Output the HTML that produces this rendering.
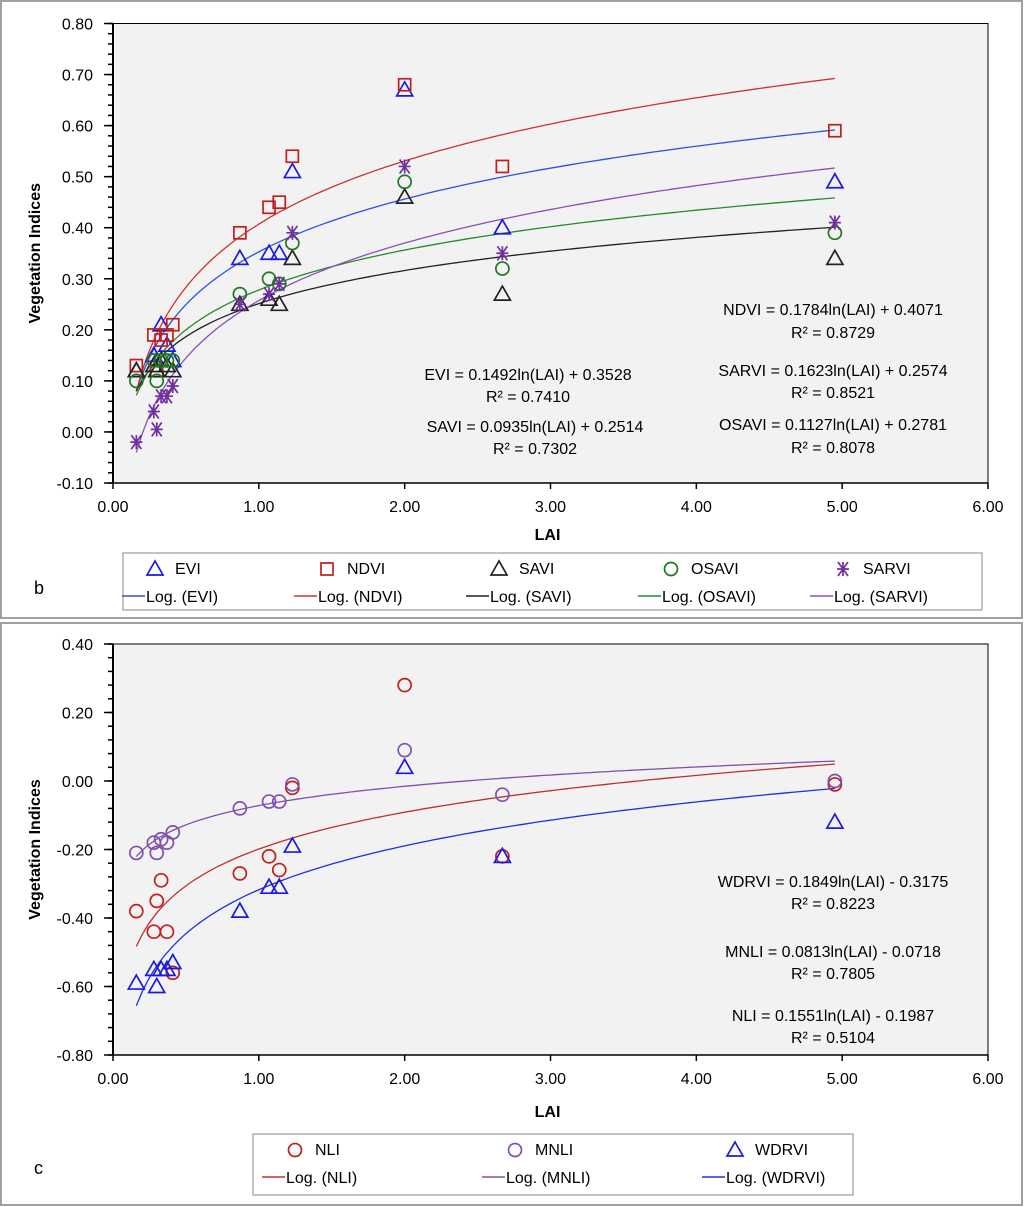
<!DOCTYPE html>
<html><head><meta charset="utf-8"><style>
html,body{margin:0;padding:0;background:#fff;}
svg{display:block;font-family:"Liberation Sans",sans-serif;}
</style></head><body>
<svg id="svg" width="1024" height="1207" viewBox="0 0 1024 1207">
<rect x="1" y="1" width="1021" height="617" fill="#fff" stroke="#a0a0a0" stroke-width="2"/>
<rect x="1" y="623" width="1021" height="582" fill="#fff" stroke="#a0a0a0" stroke-width="2"/>
<g id="gb"></g>
<g id="gc"></g>
</svg>
<script>
const lai = [0.16,0.28,0.30,0.33,0.37,0.41,0.87,1.07,1.14,1.23,2.00,2.67,4.95];
const evi = [0.12,0.15,0.14,0.21,0.17,0.14,0.34,0.35,0.35,0.51,0.67,0.40,0.49];
const ndvi = [0.13,0.19,0.12,0.18,0.19,0.21,0.39,0.44,0.45,0.54,0.68,0.52,0.59];
const savi = [0.12,0.13,0.12,0.14,0.13,0.12,0.25,0.26,0.25,0.34,0.46,0.27,0.34];
const osavi = [0.10,0.14,0.10,0.14,0.14,0.14,0.27,0.30,0.29,0.37,0.49,0.32,0.39];
const sarvi = [-0.02,0.04,0.005,0.07,0.07,0.09,0.25,0.27,0.29,0.39,0.52,0.35,0.41];
const nli = [-0.38,-0.44,-0.35,-0.29,-0.44,-0.56,-0.27,-0.22,-0.26,-0.02,0.28,-0.22,-0.01];
const mnli = [-0.21,-0.18,-0.21,-0.17,-0.18,-0.15,-0.08,-0.06,-0.06,-0.01,0.09,-0.04,0.00];
const wdrvi = [-0.59,-0.55,-0.60,-0.55,-0.55,-0.53,-0.38,-0.31,-0.31,-0.19,0.04,-0.22,-0.12];
const fitB = {evi:[0.1492,0.3528],ndvi:[0.1784,0.4071],savi:[0.0935,0.2514],osavi:[0.1127,0.2781],sarvi:[0.1623,0.2574]};
const fitC = {nli:[0.1551,-0.1987],mnli:[0.0813,-0.0718],wdrvi:[0.1849,-0.3175]};
const xTicks = [0,1,2,3,4,5,6];
const yTicksB = [-0.1,0,0.1,0.2,0.3,0.4,0.5,0.6,0.7,0.8];
const yTicksC = [-0.8,-0.6,-0.4,-0.2,0,0.2,0.4];

const NS="http://www.w3.org/2000/svg";
function el(p,t,a){const e=document.createElementNS(NS,t);for(const k in a)e.setAttribute(k,a[k]);p.appendChild(e);return e;}
function txt(p,x,y,s,o){const e=el(p,'text',Object.assign({x:x,y:y,'font-size':16,fill:'#000'},o||{}));e.textContent=s;return e;}

function marker(g,type,x,y,c){
  let m;
  if(type==='tri') m=el(g,'polygon',{points:`${x},${y-8} ${x-8},${y+6} ${x+8},${y+6}`,fill:'none',stroke:c,'stroke-width':1.7});
  else if(type==='sq') m=el(g,'rect',{x:x-6,y:y-6,width:12,height:12,fill:'none',stroke:c,'stroke-width':1.7});
  else if(type==='circ') m=el(g,'circle',{cx:x,cy:y,r:6.5,fill:'none',stroke:c,'stroke-width':1.7});
  else { m=el(g,'path',{d:`M${x-6},${y}H${x+6}M${x-5},${y-7}L${x+5},${y+7}M${x+5},${y-7}L${x-5},${y+7}M${x},${y-7}V${y+7}`,stroke:c,'stroke-width':1.7,fill:'none'}); }
  return m;
}

function chart(g,o){
  const X0=113,X1=988;
  const sx=v=>X0+(v-0)/6*(X1-X0);
  const sy=v=>o.top+(o.ymax-v)/(o.ymax-o.ymin)*(o.bot-o.top);
  const bg=el(g,'rect',{x:X0,y:o.top,width:X1-X0,height:o.bot-o.top,fill:'#f2f2f2',stroke:'#000','stroke-width':1});
  
  el(g,'line',{x1:X0,y1:o.top,x2:X0,y2:o.bot,stroke:'#000','stroke-width':2});
  el(g,'line',{x1:X0,y1:o.bot,x2:X1,y2:o.bot,stroke:'#000','stroke-width':1.5});
  for(let v=o.ymin;v<=o.ymax+1e-9;v+=o.minor){el(g,'line',{x1:X0-5,y1:sy(v),x2:X0,y2:sy(v),stroke:'#000','stroke-width':1.5});}
  o.yt.forEach(v=>{el(g,'line',{x1:X0-9,y1:sy(v),x2:X0,y2:sy(v),stroke:'#000','stroke-width':1.5});
    const t=txt(g,X0-20,sy(v)+6,v.toFixed(2),{'text-anchor':'end','font-size':16});
    });
  xTicks.forEach(v=>{el(g,'line',{x1:sx(v),y1:o.bot,x2:sx(v),y2:o.bot+6,stroke:'#000','stroke-width':1.5});
    const t=txt(g,sx(v),o.bot+29,v.toFixed(2),{'text-anchor':'middle','font-size':16});
    });
  const xt=txt(g,X0+(X1-X0)/2-3,o.bot+o.xlab,'LAI',{'text-anchor':'middle','font-weight':'bold','font-size':16});
  
  const yt=txt(g,0,0,'Vegetation Indices',{'text-anchor':'middle','font-weight':'bold','font-size':16,transform:`translate(40,${(o.top+o.bot)/2}) rotate(-90)`});
  
  o.series.forEach(s=>{
    let d='';for(let i=0;i<=120;i++){const x=0.16+(4.95-0.16)*i/120;const y=s.fit[0]*Math.log(x)+s.fit[1];d+=(i?'L':'M')+sx(x).toFixed(1)+','+sy(y).toFixed(1);}
    const p=el(g,'path',{d:d,fill:'none',stroke:s.lc,'stroke-width':1.3});
    
  });
  o.series.forEach(s=>{
    s.vals.forEach((v,i)=>{const m=marker(g,s.m,sx(lai[i]),sy(v),s.c);
      });
  });
  o.eqs.forEach(e=>{const t=txt(g,e[0],e[1],e[2],{'text-anchor':'middle','font-size':16});
    });
  const L=o.leg;
  const lb=el(g,'rect',{x:L.x,y:L.y,width:L.w,height:L.h,fill:'#fff',stroke:'#888'});
  
  o.series.forEach((s,i)=>{const cx=L.x+L.dx+i*L.step;
    const m=marker(g,s.m,cx,L.y+16,s.c);
    const t=txt(g,cx+20,L.y+21,s.label,{'font-size':16});
    el(g,'line',{x1:cx-33,y1:L.y+43,x2:cx-10,y2:L.y+43,stroke:s.lc,'stroke-width':1.5});
    const t2=txt(g,cx-9,L.y+49,'Log. ('+s.label+')',{'font-size':16});
  });
  const pl=txt(g,o.pl[0],o.pl[1],o.pl[2],{'font-size':18});
}

chart(document.getElementById('gb'),{top:23.5,bot:483,ymin:-0.1,ymax:0.8,minor:0.02,yt:yTicksB,xlab:57,
 series:[
  {name:'evi',label:'EVI',vals:evi,fit:fitB.evi,m:'tri',c:'#1a1adf',lc:'#3050e0'},
  {name:'ndvi',label:'NDVI',vals:ndvi,fit:fitB.ndvi,m:'sq',c:'#c0201c',lc:'#d03030'},
  {name:'savi',label:'SAVI',vals:savi,fit:fitB.savi,m:'tri',c:'#222',lc:'#222'},
  {name:'osavi',label:'OSAVI',vals:osavi,fit:fitB.osavi,m:'circ',c:'#1e7a1e',lc:'#2a8a2a'},
  {name:'sarvi',label:'SARVI',vals:sarvi,fit:fitB.sarvi,m:'star',c:'#7030a0',lc:'#8a50b8'}],
 eqs:[[833,315,'NDVI =  0.1784ln(LAI) + 0.4071'],[833,338,'R² = 0.8729'],[833,376,'SARVI = 0.1623ln(LAI) + 0.2574'],[833,398,'R² = 0.8521'],[833,430,'OSAVI = 0.1127ln(LAI) + 0.2781'],[833,453,'R² = 0.8078'],
      [528,380,'EVI = 0.1492ln(LAI) + 0.3528'],[528,402,'R² = 0.7410'],[535,432,'SAVI = 0.0935ln(LAI) + 0.2514'],[535,454,'R² = 0.7302']],
 leg:{x:123,y:553,w:859,h:57,dx:32,step:172},pl:[34,594,'b']});

chart(document.getElementById('gc'),{top:644,bot:1055,ymin:-0.8,ymax:0.4,minor:0.04,yt:yTicksC,xlab:62,
 series:[
  {name:'nli',label:'NLI',vals:nli,fit:fitC.nli,m:'circ',c:'#c0201c',lc:'#c03030'},
  {name:'mnli',label:'MNLI',vals:mnli,fit:fitC.mnli,m:'circ',c:'#8050b0',lc:'#8050b0'},
  {name:'wdrvi',label:'WDRVI',vals:wdrvi,fit:fitC.wdrvi,m:'tri',c:'#1a1adf',lc:'#2030e0'}],
 eqs:[[833,887,'WDRVI = 0.1849ln(LAI) - 0.3175'],[833,909,'R² = 0.8223'],[833,957,'MNLI = 0.0813ln(LAI) - 0.0718'],[833,979,'R² = 0.7805'],[833,1021,'NLI = 0.1551ln(LAI) - 0.1987'],[833,1043,'R² = 0.5104']],
 leg:{x:253,y:1134,w:600,h:61,dx:42,step:220},pl:[34,1174,'c']});
</script>
</body></html>
